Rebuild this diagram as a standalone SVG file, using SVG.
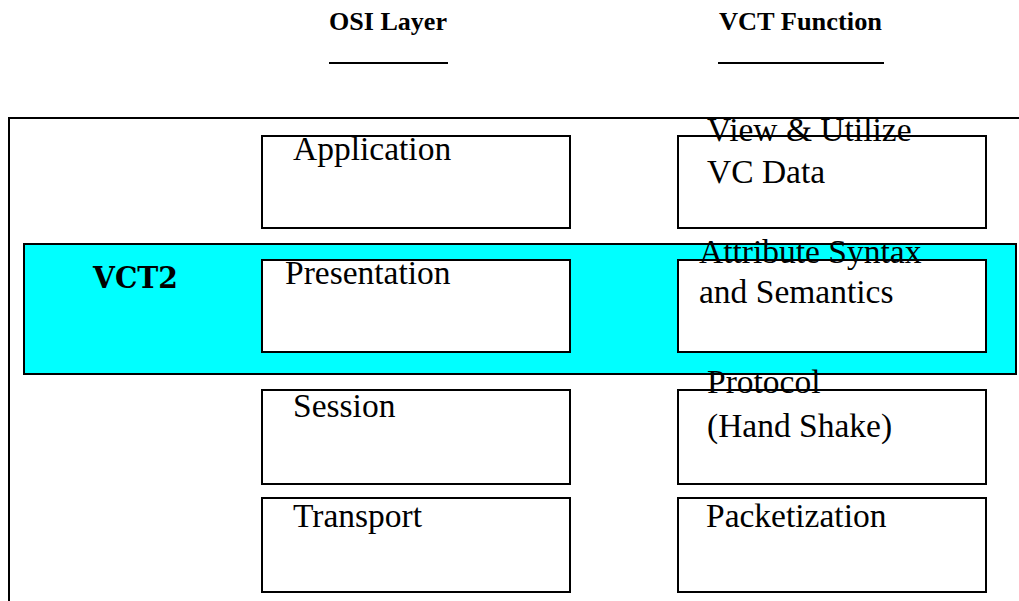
<svg xmlns="http://www.w3.org/2000/svg" width="1019" height="601" viewBox="0 0 1019 601">
<style>
.box{fill:#fff;stroke:#000;stroke-width:2}
.t{font-family:"Liberation Serif","Times New Roman",serif;font-size:33.5px;fill:#000}
.h{font-family:"Liberation Serif","Times New Roman",serif;font-size:25px;font-weight:bold;fill:#000}
.u{stroke:#000;stroke-width:2}
</style>
<rect width="1019" height="601" fill="#fff"/>
<g id="headers">
<text class="h" x="329" y="30" textLength="118" lengthAdjust="spacingAndGlyphs">OSI Layer</text>
<text class="h" x="719" y="30" textLength="163" lengthAdjust="spacingAndGlyphs">VCT Function</text>
<line class="u" x1="329" y1="63" x2="448" y2="63"/>
<line class="u" x1="718" y1="63" x2="884" y2="63"/>
</g>
<g id="outer">
<path d="M9 601 V118 H1019" fill="none" stroke="#000" stroke-width="2"/>
</g>
<g id="vct2">
<rect x="24" y="244" width="992" height="130" fill="#00ffff" stroke="#000" stroke-width="2"/>
<text x="93" y="288" font-family="'DejaVu Serif',serif" font-weight="bold" font-size="30" textLength="85" lengthAdjust="spacingAndGlyphs">VCT2</text>
</g>
<g id="application"><rect class="box" x="262" y="136" width="308" height="92"/><text class="t" x="293" y="160">Application</text></g>
<g id="presentation"><rect class="box" x="262" y="260" width="308" height="92"/><text class="t" x="285" y="284">Presentation</text></g>
<g id="session"><rect class="box" x="262" y="390" width="308" height="94"/><text class="t" x="293" y="417">Session</text></g>
<g id="transport"><rect class="box" x="262" y="498" width="308" height="94"/><text class="t" x="293" y="527">Transport</text></g>
<g id="view"><rect class="box" x="678" y="136" width="308" height="92"/><text class="t" x="707" y="141">View &amp; Utilize</text><text class="t" x="707" y="183">VC Data</text></g>
<g id="attribute"><rect class="box" x="678" y="260" width="308" height="92"/><text class="t" x="699" y="263">Attribute Syntax</text><text class="t" x="699" y="303">and Semantics</text></g>
<g id="protocol"><rect class="box" x="678" y="390" width="308" height="94"/><text class="t" x="707" y="393">Protocol</text><text class="t" x="707" y="437">(Hand Shake)</text></g>
<g id="packetization"><rect class="box" x="678" y="498" width="308" height="94"/><text class="t" x="706" y="527">Packetization</text></g>
<g id="connectors"/>
</svg>
